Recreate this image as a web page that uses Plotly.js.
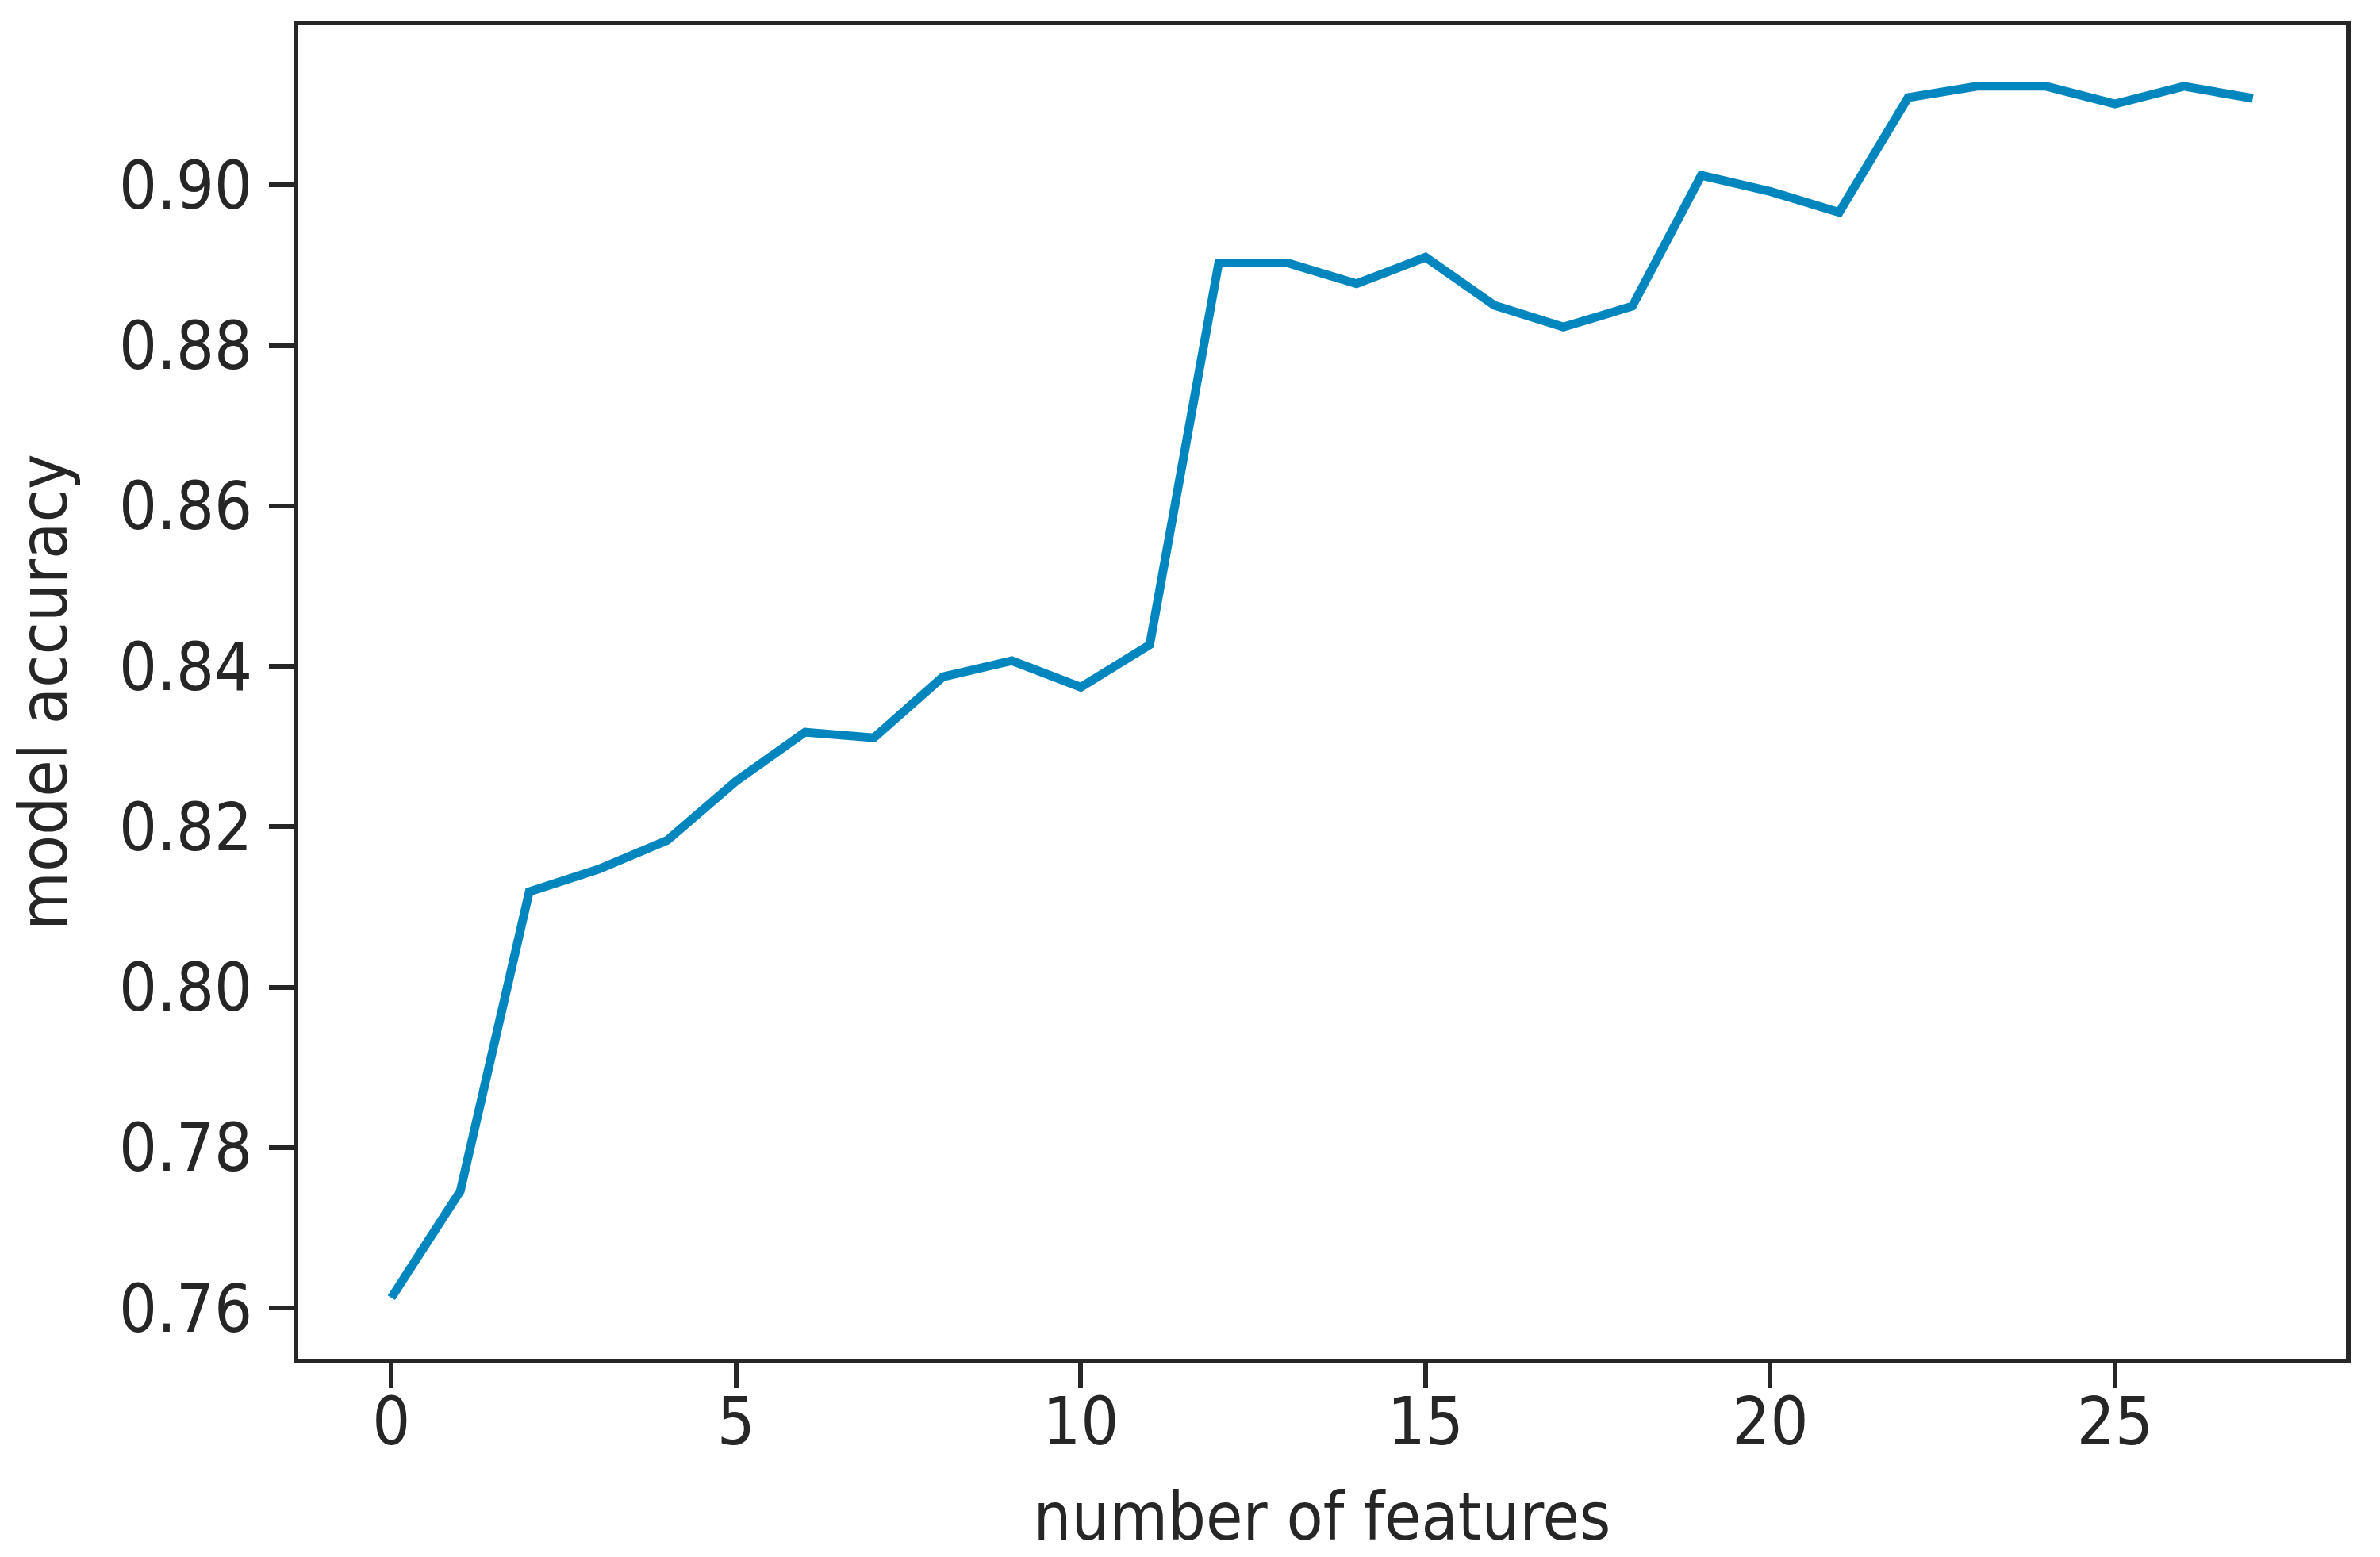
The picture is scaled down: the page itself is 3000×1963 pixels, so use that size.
<!DOCTYPE html>
<html>
<head>
<meta charset="utf-8">
<script src="https://cdn.plot.ly/plotly-3.0.1.min.js"></script>
<style>
  html, body { margin: 0; padding: 0; background: #ffffff; }
  #chart { width: 3000px; height: 1963px; }
</style>
</head>
<body>
<div id="chart"></div>
<script>
// number of features (x) and model accuracy (y)
const numFeatures = [0, 1, 2, 3, 4, 5, 6, 7, 8, 9, 10, 11, 12, 13, 14, 15, 16, 17, 18, 19, 20, 21, 22, 23, 24, 25, 26, 27];
const modelAccuracy = [0.7613, 0.7746, 0.8119, 0.8147, 0.8183, 0.8257, 0.8318, 0.8311, 0.8387, 0.8407, 0.8374, 0.8427,
                       0.8903, 0.8903, 0.8877, 0.8910, 0.8850, 0.8823, 0.8849, 0.9012, 0.8992, 0.8966,
                       0.9109, 0.9123, 0.9123, 0.9101, 0.9123, 0.9108];
const xTickVals = [0, 5, 10, 15, 20, 25];
const yTickVals = [0.76, 0.78, 0.80, 0.82, 0.84, 0.86, 0.88, 0.90];
const yTickText = ["0.76", "0.78", "0.80", "0.82", "0.84", "0.86", "0.88", "0.90"];
const xTitle = "number of features";
const yTitle = "model accuracy";

const FONT = '"DejaVu Sans Condensed", "DejaVu Sans", sans-serif';
const AX = '#262626';

const trace = {
  x: numFeatures,
  y: modelAccuracy,
  type: 'scatter',
  mode: 'lines',
  line: { color: '#0086bf', width: 11 },
  hoverinfo: 'skip'
};

const layout = {
  width: 3000,
  height: 1963,
  margin: { l: 376, r: 43, t: 32, b: 250, pad: 0 },
  paper_bgcolor: '#ffffff',
  plot_bgcolor: '#ffffff',
  showlegend: false,
  font: { family: FONT, size: 84, color: '#262626' },
  xaxis: {
    range: [-1.35, 28.35],
    tickmode: 'array',
    tickvals: xTickVals,
    ticktext: xTickVals.map(String),
    ticks: 'outside',
    ticklen: 31,
    tickwidth: 6,
    tickcolor: AX,
    ticklabelstandoff: -30,
    showline: true,
    linecolor: AX,
    linewidth: 6,
    mirror: true,
    showgrid: false,
    zeroline: false,
    tickfont: { family: FONT, size: 84, color: '#262626' },
    title: { text: xTitle, font: { family: FONT, size: 84, color: '#262626' }, standoff: 44 },
    automargin: false
  },
  yaxis: {
    range: [0.7537, 0.9199],
    tickmode: 'array',
    tickvals: yTickVals,
    ticktext: yTickText,
    ticks: 'outside',
    ticklen: 31,
    tickwidth: 6,
    tickcolor: AX,
    ticklabelstandoff: 4,
    showline: true,
    linecolor: AX,
    linewidth: 6,
    mirror: true,
    showgrid: false,
    zeroline: false,
    tickfont: { family: FONT, size: 84, color: '#262626' },
    title: { text: yTitle, font: { family: FONT, size: 84, color: '#262626' }, standoff: 40 },
    automargin: false
  }
};

Plotly.newPlot('chart', [trace], layout, { staticPlot: true, displayModeBar: false });
</script>
</body>
</html>
